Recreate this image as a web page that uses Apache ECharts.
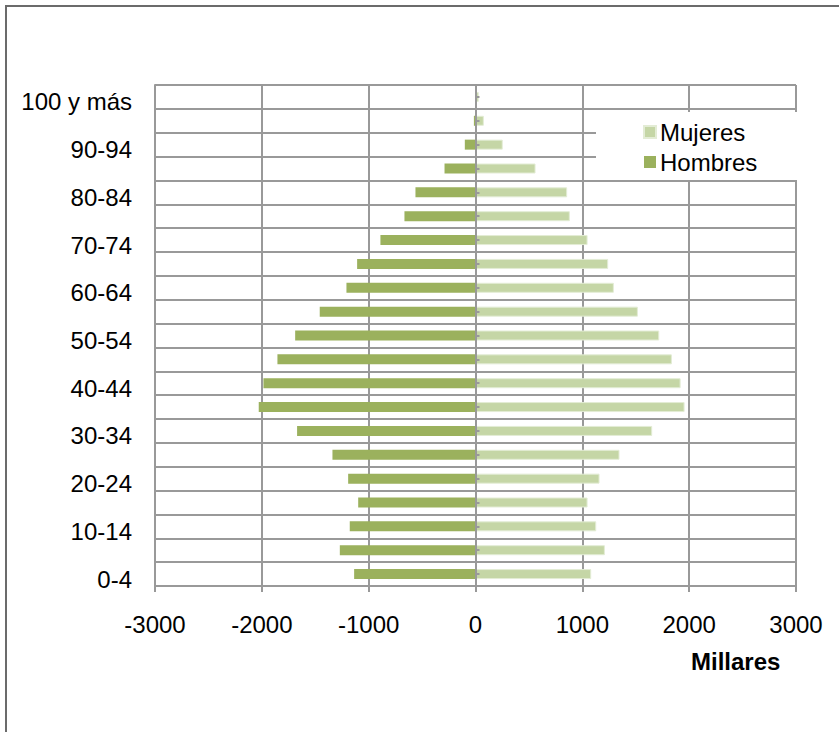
<!DOCTYPE html>
<html>
<head>
<meta charset="utf-8">
<script src="https://cdn.jsdelivr.net/npm/echarts@6/dist/echarts.min.js"></script>
<style>
html,body{margin:0;padding:0;background:#fff;}
#chart{width:839px;height:732px;}
</style>
</head>
<body>
<div id="chart"></div>
<script>
const categories = ['0-4','5-9','10-14','15-19','20-24','25-29','30-34','35-39','40-44','45-49','50-54','55-59','60-64','65-69','70-74','75-79','80-84','85-89','90-94','95-99','100 y más'];
const hombres = [-1136,-1270,-1177,-1098,-1192,-1339,-1670,-2029,-1985,-1854,-1688,-1458,-1208,-1108,-890,-665,-562,-290,-100,-15,-3];
const mujeres = [1083,1211,1130,1049,1161,1348,1654,1957,1920,1838,1720,1520,1295,1242,1049,883,858,562,255,78,30];
const xTicks = [-3000,-2000,-1000,0,1000,2000,3000];

const FONT = '"Liberation Sans", Arial, Helvetica, sans-serif';
const GRID = '#999999';
const chart = echarts.init(document.getElementById('chart'), null, {renderer:'svg'});
chart.setOption({
  backgroundColor:'#ffffff',
  animation:false,
  textStyle:{fontFamily:FONT},
  grid:{left:155,right:43,top:85,bottom:146,containLabel:false},
  graphic:[
    {type:'rect',shape:{x:6,y:6,width:900,height:900},style:{fill:'none',stroke:'#6b6b6b',lineWidth:2},z:-1},
    {type:'text',left:691,top:649,style:{text:'Millares',font:'bold 24px '+FONT,fill:'#000'}}
  ],
  legend:{
    data:['Mujeres','Hombres'],
    orient:'vertical',
    left:596, top:112,
    padding:[8,40,6,47],
    backgroundColor:'#ffffff',
    itemWidth:12,itemHeight:12,itemGap:6,
    icon:'rect',
    textStyle:{fontSize:24,color:'#000',fontFamily:FONT,padding:[0,0,0,-1]},
    z:10
  },
  xAxis:{
    type:'value',min:xTicks[0],max:xTicks[xTicks.length-1],interval:1000,
    axisLine:{show:true,lineStyle:{color:GRID,width:2}},
    axisTick:{show:true,length:6,lineStyle:{color:GRID,width:2}},
    axisLabel:{fontSize:24,color:'#000',margin:26,fontFamily:FONT,formatter:function(v){return String(v);}},
    splitLine:{show:true,lineStyle:{color:GRID,width:2}}
  },
  yAxis:[{
    type:'category',data:categories,
    axisLine:{show:true,onZero:false,lineStyle:{color:GRID,width:2}},
    axisTick:{show:false},
    axisLabel:{interval:1,fontSize:24,color:'#000',margin:23,fontFamily:FONT,verticalAlign:'top',lineHeight:10},
    splitLine:{show:true,interval:0,lineStyle:{color:GRID,width:2}}
  },{
    type:'category',data:categories,position:'left',
    axisLine:{show:true,onZero:true,lineStyle:{color:GRID,width:2}},
    axisTick:{show:true,inside:true,length:4,alignWithLabel:true,lineStyle:{color:GRID,width:2}},
    axisLabel:{show:false},
    splitLine:{show:false},
    z:5
  }],
  series:[
    {name:'Mujeres',type:'bar',data:mujeres,barWidth:10,barGap:'-100%',
     itemStyle:{color:'#c5d6a6',borderColor:'#e3ecd5',borderWidth:1}},
    {name:'Hombres',type:'bar',data:hombres,barWidth:10,barGap:'-100%',
     itemStyle:{color:'#9bb15d'}}
  ]
});
</script>
</body>
</html>
